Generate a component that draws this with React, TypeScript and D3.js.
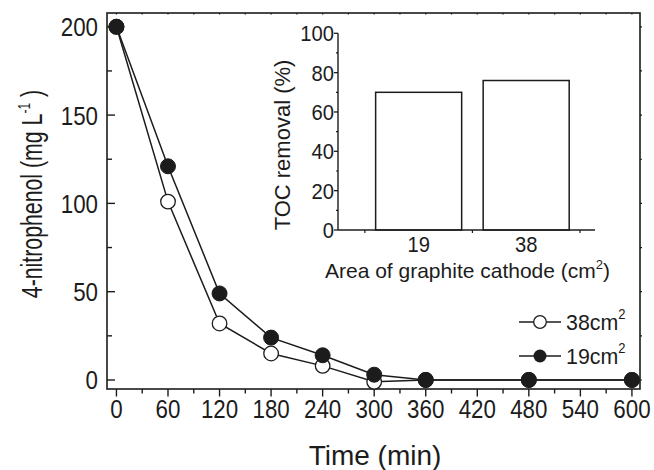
import React from 'react';
import * as d3 from 'd3';

const times = [0, 60, 120, 180, 240, 300, 360, 480, 600];
const series38 = [200, 101, 32, 15, 8, -1, 0, 0, 0];
const series19 = [200, 121, 49, 24, 14, 3, 0, 0, 0];
const xMajor = [0, 60, 120, 180, 240, 300, 360, 420, 480, 540, 600];
const xMinor = [30, 90, 150, 210, 270, 330, 390, 450, 510, 570];
const yMajor = [0, 50, 100, 150, 200];
const yMinor = [25, 75, 125, 175];

const areas = ['19', '38'];
const tocRemoval = [70, 76];
const insetYMajor = [0, 20, 40, 60, 80, 100];
const insetYMinor = [10, 30, 50, 70, 90];

const FONT = "'Liberation Sans', Arial, sans-serif";
const INK = '#1c1c1c';

export default function App() {
  const W = 654, H = 470;
  const L = 107, R = 640, T = 13, B = 389;
  const x = d3.scaleLinear().domain([-11, 609.4]).range([L, R]);
  const y = d3.scaleLinear().domain([-5.1, 207.8]).range([B, T]);

  const ix = d3.scaleLinear().domain([0.25, 2.64]).range([338, 595]);
  const iy = d3.scaleLinear().domain([0, 100]).range([230, 33.3]);
  const barW = 0.8;

  const line = d3.line<number>().x((_, i) => x(times[i])).y((d) => y(d));

  const allTicks = [...xMajor, ...xMinor].sort((a, b) => a - b);
  const SQ = 0.86;

  return (
    <div style={{ position: 'absolute', left: 0, top: 0 }}>
      <svg width={W} height={H} style={{ display: 'block', background: '#fff' }} fontFamily={FONT}>
        <rect x={0} y={0} width={W} height={H} fill="#fff" />
        {/* frame */}
        <rect x={L} y={T} width={R - L} height={B - T} fill="none" stroke={INK} strokeWidth={1.6} />
        {/* x ticks (outward, bottom) */}
        {xMajor.map((v) => (
          <line key={'xM' + v} x1={x(v)} x2={x(v)} y1={B} y2={B + 7.5} stroke={INK} strokeWidth={1.4} />
        ))}
        {xMinor.map((v) => (
          <line key={'xm' + v} x1={x(v)} x2={x(v)} y1={B} y2={B + 4.5} stroke={INK} strokeWidth={1.4} />
        ))}
        {/* top tiny ticks */}
        {allTicks.map((v) => (
          <line key={'xt' + v} x1={x(v)} x2={x(v)} y1={T} y2={T + 1.5} stroke={INK} strokeWidth={1.2} />
        ))}
        {/* y ticks (inward, left) */}
        {yMajor.map((v) => (
          <line key={'yM' + v} x1={L} x2={L + 8} y1={y(v)} y2={y(v)} stroke={INK} strokeWidth={1.4} />
        ))}
        {yMinor.map((v) => (
          <line key={'ym' + v} x1={L} x2={L + 5} y1={y(v)} y2={y(v)} stroke={INK} strokeWidth={1.4} />
        ))}
        {/* right tiny ticks */}
        {[...yMajor, ...yMinor].map((v) => (
          <line key={'yr' + v} x1={R} x2={R + 2} y1={y(v)} y2={y(v)} stroke={INK} strokeWidth={1.2} />
        ))}
        {/* x tick labels */}
        {xMajor.map((v) => (
          <text
            key={'xl' + v}
            transform={`translate(${x(v)},418) scale(${SQ},1)`}
            textAnchor="middle"
            fontSize={26}
            fill={INK}
          >
            {v}
          </text>
        ))}
        {/* y tick labels */}
        {yMajor.map((v) => (
          <text
            key={'yl' + v}
            transform={`translate(98,${y(v) + 9.5}) scale(${SQ},1)`}
            textAnchor="end"
            fontSize={26}
            fill={INK}
          >
            {v}
          </text>
        ))}
        {/* axis titles */}
        <text x={375} y={465} textAnchor="middle" fontSize={28} fill={INK}>
          Time (min)
        </text>
        <text transform="translate(41.5,194) rotate(-90) scale(0.71,1)" textAnchor="middle" fontSize={30} fill={INK}>
          4-nitrophenol (mg L<tspan dy={-12} fontSize={17}>-1</tspan>
          <tspan dy={12}> )</tspan>
        </text>

        {/* data lines */}
        <path d={line(series38) || ''} fill="none" stroke={INK} strokeWidth={1.5} />
        <path d={line(series19) || ''} fill="none" stroke={INK} strokeWidth={1.5} />
        {series38.map((v, i) => (
          <circle key={'o' + i} cx={x(times[i])} cy={y(v)} r={7.3} fill="#fff" stroke={INK} strokeWidth={1.3} />
        ))}
        {series19.map((v, i) => (
          <circle key={'f' + i} cx={x(times[i])} cy={y(v)} r={7.5} fill={INK} stroke={INK} strokeWidth={1} />
        ))}

        {/* legend */}
        <line x1={519} x2={561} y1={322} y2={322} stroke={INK} strokeWidth={1.5} />
        <circle cx={540} cy={322} r={6.3} fill="#fff" stroke={INK} strokeWidth={1.3} />
        <text transform="translate(566,330) scale(0.93,1)" fontSize={23} fill={INK}>
          38cm<tspan dy={-11} fontSize={14}>2</tspan>
        </text>
        <line x1={519} x2={561} y1={356} y2={356} stroke={INK} strokeWidth={1.5} />
        <circle cx={540} cy={356} r={6.5} fill={INK} />
        <text transform="translate(566,364) scale(0.93,1)" fontSize={23} fill={INK}>
          19cm<tspan dy={-11} fontSize={14}>2</tspan>
        </text>

        {/* inset */}
        {tocRemoval.map((v, i) => (
          <rect
            key={'bar' + i}
            x={ix(i + 1 - barW / 2)}
            y={iy(v)}
            width={ix(i + 1 + barW / 2) - ix(i + 1 - barW / 2)}
            height={iy(0) - iy(v)}
            fill="#fff"
            stroke={INK}
            strokeWidth={1.5}
          />
        ))}
        <line x1={ix(0.25)} x2={ix(0.25)} y1={iy(0)} y2={iy(100)} stroke={INK} strokeWidth={1.4} />
        <line x1={ix(0.25)} x2={ix(2.64)} y1={iy(0)} y2={iy(0)} stroke={INK} strokeWidth={1.4} />
        {insetYMajor.map((v) => (
          <line key={'iyM' + v} x1={ix(0.25) - 4} x2={ix(0.25)} y1={iy(v)} y2={iy(v)} stroke={INK} strokeWidth={1.3} />
        ))}
        {insetYMinor.map((v) => (
          <line key={'iym' + v} x1={ix(0.25) - 2} x2={ix(0.25)} y1={iy(v)} y2={iy(v)} stroke={INK} strokeWidth={1.2} />
        ))}
        {[0.5, 1.5, 2.5].map((v) => (
          <line key={'ixt' + v} x1={ix(v)} x2={ix(v)} y1={iy(0)} y2={iy(0) + 3} stroke={INK} strokeWidth={1.2} />
        ))}
        {insetYMajor.map((v) => (
          <text
            key={'iyl' + v}
            transform={`translate(334,${iy(v) + 8}) scale(0.92,1)`}
            textAnchor="end"
            fontSize={22}
            fill={INK}
          >
            {v}
          </text>
        ))}
        {areas.map((a, i) => (
          <text
            key={'ixl' + a}
            transform={`translate(${ix(i + 1)},252) scale(0.92,1)`}
            textAnchor="middle"
            fontSize={22}
            fill={INK}
          >
            {a}
          </text>
        ))}
        <text x={467.5} y={278} textAnchor="middle" fontSize={21} fill={INK}>
          Area of graphite cathode (cm<tspan dy={-9} fontSize={13}>2</tspan>
          <tspan dy={9}>)</tspan>
        </text>
        <text transform="translate(290,145) rotate(-90)" textAnchor="middle" fontSize={22} fill={INK}>
          TOC removal (%)
        </text>
      </svg>
    </div>
  );
}
